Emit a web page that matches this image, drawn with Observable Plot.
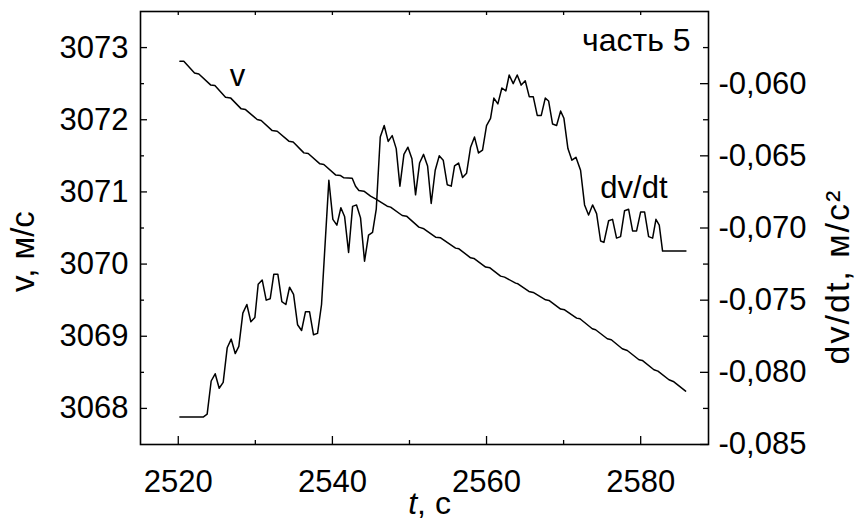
<!DOCTYPE html>
<html><head><meta charset="utf-8">
<script src="https://cdn.jsdelivr.net/npm/d3@7"></script>
<script src="https://cdn.jsdelivr.net/npm/@observablehq/plot@0.6"></script>
<style>
html,body{margin:0;padding:0;background:#fff;}
</style></head><body><div id="chart"></div>
<script>
// v(t) series
const tV = [2520.21, 2520.72, 2522.11, 2522.67, 2524.19, 2524.75, 2526.13, 2526.78, 2528.17, 2528.73,
  2530.24, 2530.76, 2532.19, 2532.84, 2534.35, 2534.91, 2536.30, 2536.86, 2538.38, 2538.89,
  2540.41, 2541.06, 2541.49, 2542.57, 2543.00, 2543.44, 2544.09, 2544.95, 2545.60, 2547.11,
  2547.55, 2549.06, 2549.62, 2551.22, 2551.87, 2553.39, 2554.04, 2555.98, 2556.42, 2557.93,
  2558.36, 2559.88, 2560.44, 2561.82, 2562.34, 2563.77, 2564.07, 2565.50, 2566.06, 2567.66,
  2568.10, 2569.61, 2570.13, 2571.69, 2572.12, 2573.72, 2574.15, 2575.67, 2576.19, 2577.61,
  2578.26, 2579.78, 2580.21, 2581.72, 2582.24, 2583.67, 2584.23, 2585.83];
const vVals = [3072.811, 3072.811, 3072.649, 3072.635, 3072.483, 3072.474, 3072.312, 3072.303, 3072.151, 3072.141,
  3072.003, 3071.989, 3071.850, 3071.841, 3071.703, 3071.693, 3071.541, 3071.532, 3071.389, 3071.380,
  3071.236, 3071.227, 3071.195, 3071.190, 3071.079, 3071.019, 3071.010, 3070.941, 3070.904, 3070.802,
  3070.789, 3070.673, 3070.664, 3070.512, 3070.489, 3070.373, 3070.364, 3070.221, 3070.212, 3070.087,
  3070.078, 3069.958, 3069.948, 3069.833, 3069.819, 3069.736, 3069.727, 3069.621, 3069.607, 3069.505,
  3069.496, 3069.376, 3069.367, 3069.251, 3069.242, 3069.104, 3069.090, 3068.965, 3068.951, 3068.827,
  3068.803, 3068.674, 3068.665, 3068.536, 3068.517, 3068.397, 3068.374, 3068.240];

// dv/dt(t) series
const tD = [2520.21, 2523.23, 2523.75, 2524.27, 2524.79, 2525.31, 2525.83, 2526.35, 2526.87, 2527.39,
  2527.86, 2528.38, 2528.90, 2529.42, 2529.94, 2530.37, 2530.89, 2531.41, 2531.93, 2532.40,
  2532.92, 2533.44, 2533.96, 2534.44, 2534.96, 2535.48, 2536.00, 2536.51, 2537.03, 2537.55,
  2538.07, 2538.59, 2539.54, 2540.06, 2540.58, 2541.10, 2541.58, 2542.10, 2542.62, 2543.13,
  2543.65, 2544.17, 2544.69, 2545.21, 2545.69, 2546.21, 2546.72, 2547.24, 2547.76, 2548.28,
  2548.76, 2549.28, 2549.80, 2550.32, 2550.79, 2551.31, 2551.83, 2552.35, 2552.82, 2553.34,
  2553.86, 2554.38, 2554.90, 2555.42, 2555.85, 2556.37, 2556.89, 2557.41, 2557.93, 2558.44,
  2558.96, 2559.48, 2560.00, 2560.52, 2560.95, 2561.47, 2561.99, 2562.51, 2562.94, 2563.46,
  2563.98, 2564.50, 2565.02, 2565.54, 2566.06, 2566.58, 2567.10, 2567.62, 2568.05, 2568.57,
  2569.09, 2569.61, 2570.04, 2570.56, 2571.08, 2571.60, 2572.20, 2572.72, 2573.24, 2573.76,
  2574.28, 2574.80, 2575.23, 2575.84, 2576.35, 2576.87, 2577.39, 2577.91, 2578.43, 2578.95,
  2579.47, 2579.99, 2580.51, 2581.03, 2581.55, 2581.98, 2582.41, 2582.84, 2585.87];
const dVals = [-0.0831, -0.0831, -0.0829, -0.0806, -0.0801, -0.0811, -0.0807, -0.0783, -0.0777, -0.0787,
  -0.0782, -0.0759, -0.0753, -0.0765, -0.0762, -0.0739, -0.0736, -0.0750, -0.0749, -0.0732,
  -0.0732, -0.0751, -0.0753, -0.0741, -0.0746, -0.0767, -0.0771, -0.0758, -0.0758, -0.0774,
  -0.0773, -0.0753, -0.0667, -0.0694, -0.0698, -0.0686, -0.0692, -0.0717, -0.0685, -0.0684,
  -0.0693, -0.0723, -0.0705, -0.0703, -0.0687, -0.0637, -0.0629, -0.0640, -0.0636, -0.0645,
  -0.0671, -0.0649, -0.0644, -0.0652, -0.0677, -0.0655, -0.0649, -0.0657, -0.0683, -0.0660,
  -0.0650, -0.0653, -0.0670, -0.0671, -0.0657, -0.0655, -0.0665, -0.0662, -0.0644, -0.0637,
  -0.0648, -0.0646, -0.0629, -0.0624, -0.0610, -0.0614, -0.0603, -0.0605, -0.0594, -0.0600,
  -0.0594, -0.0601, -0.0598, -0.0609, -0.0609, -0.0622, -0.0622, -0.0610, -0.0612, -0.0628,
  -0.0629, -0.0619, -0.0624, -0.0645, -0.0653, -0.0651, -0.0660, -0.0684, -0.0691, -0.0684,
  -0.0690, -0.0709, -0.0710, -0.0695, -0.0694, -0.0707, -0.0706, -0.0688, -0.0687, -0.0702,
  -0.0702, -0.0689, -0.0689, -0.0706, -0.0707, -0.0694, -0.0698, -0.0716, -0.0716];

// ticks
const xMajor = [2520, 2540, 2560, 2580];
const xMinor = [2530, 2550, 2570];
const vMajor = [3068, 3069, 3070, 3071, 3072, 3073];
const vMinor = [3068.5, 3069.5, 3070.5, 3071.5, 3072.5];
const dMajor = [-0.085, -0.080, -0.075, -0.070, -0.065, -0.060];
const dMinor = [-0.0825, -0.0775, -0.0725, -0.0675, -0.0625, -0.0575];

// domains
const xDomain = [2515.1, 2588.8];
const vDomain = [3067.5, 3073.5];
const dDomain = [-0.085, -0.055];

// map right-axis values onto the shared y scale
const toV = d => vDomain[0] + (d - dDomain[0]) / (dDomain[1] - dDomain[0]) * (vDomain[1] - vDomain[0]);
const toD = v => dDomain[0] + (v - vDomain[0]) / (vDomain[1] - vDomain[0]) * (dDomain[1] - dDomain[0]);

const vRows = tV.map((t, i) => ({t, v: vVals[i]}));
const dRows = tD.map((t, i) => ({t, d: dVals[i]}));

const W = 858, H = 520, mL = 140, mR = 150, mT = 11, mB = 76;
const pw = W - mL - mR, ph = H - mT - mB;
const K = "#000";
const rightTitle = "dv/dt, м/с²";

const chart = Plot.plot({
  width: W, height: H,
  marginLeft: mL, marginRight: mR, marginTop: mT, marginBottom: mB,
  style: {fontFamily: '"Liberation Sans", Arial, sans-serif', fontSize: "31px", color: K, background: "#fff", overflow: "visible"},
  x: {domain: xDomain},
  y: {domain: vDomain},
  marks: [
    Plot.tickY(vMajor, {insetRight: pw - 7, stroke: K, strokeWidth: 1.3}),
    Plot.tickY(vMinor, {insetRight: pw - 4, stroke: K, strokeWidth: 1.3}),
    Plot.tickY(dMajor.map(toV), {insetLeft: pw - 8, stroke: K, strokeWidth: 1.3}),
    Plot.tickY(dMinor.map(toV), {insetLeft: pw - 5, stroke: K, strokeWidth: 1.3}),
    Plot.tickX(xMajor, {insetTop: ph - 8, stroke: K, strokeWidth: 1.3}),
    Plot.tickX(xMinor, {insetTop: ph - 4, stroke: K, strokeWidth: 1.3}),
    Plot.tickX([...xMajor, ...xMinor], {insetBottom: ph - 4, stroke: K, strokeWidth: 1.3}),
    Plot.frame({stroke: K, strokeWidth: 1.6}),
    Plot.axisX({ticks: xMajor, tickSize: 0, tickPadding: 25, tickFormat: d => String(d), label: null}),
    Plot.axisY({anchor: "left", ticks: vMajor, tickSize: 0, tickPadding: 12, tickFormat: d => String(d), label: null}),
    Plot.axisY({anchor: "right", ticks: dMajor.map(toV), tickSize: 0, tickPadding: 10,
      tickFormat: v => toD(v).toFixed(3).replace(".", ","), label: null}),
    Plot.line(vRows, {x: "t", y: "v", stroke: K, strokeWidth: 1.5}),
    Plot.line(dRows, {x: "t", y: r => toV(r.d), stroke: K, strokeWidth: 1.5}),
    Plot.text(["v"], {frameAnchor: "top-left", dx: 97, dy: 74, lineAnchor: "bottom", textAnchor: "middle", fontSize: 31, fill: K}),
    Plot.text(["часть 5"], {frameAnchor: "top-right", dx: -18, dy: 39, lineAnchor: "bottom", textAnchor: "end", fontSize: 32, fill: K}),
    Plot.text(["dv/dt"], {frameAnchor: "top-right", dx: -41, dy: 186, lineAnchor: "bottom", textAnchor: "end", fontSize: 31, fill: K}),
    Plot.text(["v, м/с"], {frameAnchor: "left", rotate: -90, dx: -107, dy: 23.5, lineAnchor: "bottom", textAnchor: "middle", fontSize: 33, fill: K}),
    Plot.text([rightTitle], {frameAnchor: "right", rotate: -90, dx: 140, dy: 48.5, lineAnchor: "bottom", textAnchor: "middle", fontSize: 34, fill: K}),
    Plot.text(["t"], {frameAnchor: "bottom", dx: -7.4, dy: 69, lineAnchor: "bottom", textAnchor: "end", fontSize: 32, fontStyle: "italic", fill: K}),
    Plot.text([", с"], {frameAnchor: "bottom", dx: -7.4, dy: 69, lineAnchor: "bottom", textAnchor: "start", fontSize: 32, fill: K})
  ]
});
d3.select(chart).selectAll("text")
  .filter(function() { return this.textContent === rightTitle; })
  .attr("letter-spacing", "2px");
document.getElementById("chart").appendChild(chart);
</script>
</body></html>
